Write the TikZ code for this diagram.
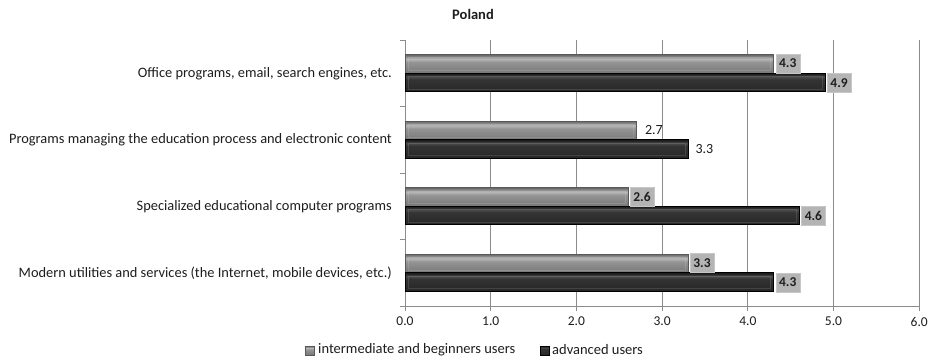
\documentclass[tikz,border=0pt]{standalone}
\usepackage{fontspec}
\setmainfont{Carlito}
\usetikzlibrary{positioning}
\definecolor{gridgray}{HTML}{8C8C8C}
\definecolor{boxgray}{HTML}{B4B4B4}
\definecolor{txt}{HTML}{1E1E1E}
% glossy bar shadings (colour stops inside 25bp..75bp cover the bar)
\pgfdeclareverticalshading{lightbar}{100bp}{color(0bp)=(black!64); color(25bp)=(black!64); color(28bp)=(black!52); color(55bp)=(black!42); color(64bp)=(black!28); color(70bp)=(black!46); color(75bp)=(black!60); color(100bp)=(black!60)}
\pgfdeclareverticalshading{darkbar}{100bp}{color(0bp)=(black!92); color(25bp)=(black!92); color(29bp)=(black!84); color(58bp)=(black!80); color(66bp)=(black!70); color(71bp)=(black!84); color(75bp)=(black!90); color(100bp)=(black!90)}
\tikzset{
  x=1pt, y=-1pt,
  lightbarstyle/.style={shading=lightbar, draw=black!65, line width=0.6pt},
  darkbarstyle/.style={shading=darkbar, draw=black, line width=0.6pt},
  bevel/.style={draw=white, opacity=0.12, line width=0.5pt},
  gridline/.style={draw=gridgray, line width=0.7pt},
  axisline/.style={draw=gridgray, line width=0.8pt},
  catlabel/.style={anchor=east, font=\fontsize{14.4}{16}\selectfont, text=txt, inner sep=0pt},
  ticklabel/.style={anchor=north, font=\fontsize{13.5}{15}\selectfont, text=txt, inner sep=0pt},
  valbox/.style={anchor=west, fill=boxgray, draw=black!22, line width=0.4pt, minimum width=24pt, minimum height=19pt, inner sep=0pt, font=\bfseries\fontsize{13.5}{15}\selectfont, text=txt},
  valplain/.style={anchor=west, inner sep=0pt, font=\fontsize{14}{15}\selectfont, text=txt},
  legtext/.style={anchor=west, font=\fontsize{14.5}{16}\selectfont, text=txt, inner sep=0pt},
}
% x position of a value on the horizontal axis
\newcommand{\valx}[1]{405+85.7*#1}
% one glossy bar: style, top y, value
\newcommand{\chartbar}[3]{%
  \path[#1] (405,#2) rectangle ({\valx{#3}},#2+18.5);
  \path[bevel] (408,#2+3) rectangle ({\valx{#3}-3},#2+15.5);
}
\begin{document}
\begin{tikzpicture}
\useasboundingbox (0,0) rectangle (931,361);
\fill[white] (0,0) rectangle (931,361);

% title
\node[font=\bfseries\fontsize{14.5}{16}\selectfont, text=txt] (title) at (473,14) {Poland};

% vertical grid lines
\foreach \k in {1,...,6}
  \draw[gridline] ({\valx{\k}},40) -- ({\valx{\k}},306);

% axes
\draw[axisline] (405,40) -- (405,306) -- (919,306);
\foreach \yy in {40,106.5,173,239.5,306}
  \draw[axisline] (400,\yy) -- (405,\yy);
\foreach \k in {0,...,6}
  \draw[axisline] ({\valx{\k}},306) -- ({\valx{\k}},311);

% tick labels
\foreach \k/\lab in {0/0.0,1/1.0,2/2.0,3/3.0,4/4.0,5/5.0,6/6.0}
  \node[ticklabel] (tick\k) at ({\valx{\k}},317) {\lab};

% category labels
\node[catlabel] (cat1) at (392,73.25) {Office programs, email, search engines, etc.};
\node[catlabel] (cat2) at (392,139.75) {Programs managing the education process and electronic content};
\node[catlabel] (cat3) at (392,206.25) {Specialized educational computer programs};
\node[catlabel] (cat4) at (392,272.75) {Modern utilities and services (the Internet, mobile devices, etc.)};

% bars
\chartbar{lightbarstyle}{54.75}{4.3}
\chartbar{darkbarstyle}{73.25}{4.9}
\chartbar{lightbarstyle}{121.25}{2.7}
\chartbar{darkbarstyle}{139.75}{3.3}
\chartbar{lightbarstyle}{187.75}{2.6}
\chartbar{darkbarstyle}{206.25}{4.6}
\chartbar{lightbarstyle}{254.25}{3.3}
\chartbar{darkbarstyle}{272.75}{4.3}

% value labels
\node[valbox] (v1a) at ({\valx{4.3}+2},63.5) {4.3};
\node[valbox] (v1b) at ({\valx{4.9}+2},83) {4.9};
\node[valplain] (v2a) at ({\valx{2.7}+8.5},130) {2.7};
\node[valplain] (v2b) at ({\valx{3.3}+7.5},149.5) {3.3};
\node[valbox] (v3a) at ({\valx{2.6}+2},196.5) {2.6};
\node[valbox] (v3b) at ({\valx{4.6}+2},216) {4.6};
\node[valbox] (v4a) at ({\valx{3.3}+2},263) {3.3};
\node[valbox] (v4b) at ({\valx{4.3}+2},282.5) {4.3};

% legend
\path[lightbarstyle, line width=0.4pt] (305,346) rectangle (314,355);
\node[legtext] (leg1) at (318,350) {intermediate and beginners users};
\path[darkbarstyle, line width=0.4pt] (540,346) rectangle (549,355);
\node[legtext] (leg2) at (552,350) {advanced users};
\end{tikzpicture}
\end{document}
